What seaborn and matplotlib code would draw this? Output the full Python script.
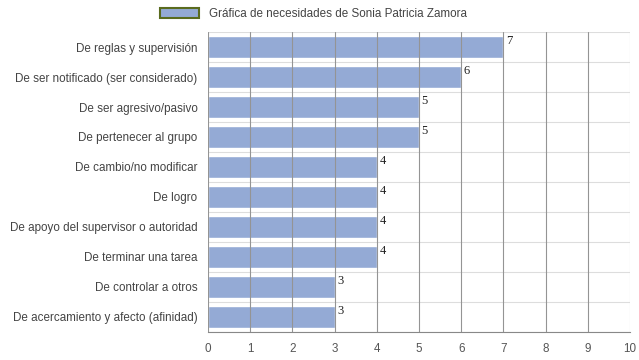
import numpy as np
import pandas as pd
import matplotlib
matplotlib.use("Agg")
import matplotlib.pyplot as plt
import seaborn as sns
from matplotlib.patches import Patch

categories = [
    "De reglas y supervisión",
    "De ser notificado (ser considerado)",
    "De ser agresivo/pasivo",
    "De pertenecer al grupo",
    "De cambio/no modificar",
    "De logro",
    "De apoyo del supervisor o autoridad",
    "De terminar una tarea",
    "De controlar a otros",
    "De acercamiento y afecto (afinidad)",
]
values = [7, 6, 5, 5, 4, 4, 4, 4, 3, 3]
series_name = "Gráfica de necesidades de Sonia Patricia Zamora"

df = pd.DataFrame({"Necesidad": categories, "Valor": values})

sns.set_style("white")
plt.rcParams["font.family"] = ["Liberation Sans", "DejaVu Sans"]

bar_color = "#94aad5"

fig = plt.figure(figsize=(6.39, 3.6), dpi=100)
ax = fig.add_axes([0.3255, 0.078, 0.6605, 0.833])

sns.barplot(data=df, x="Valor", y="Necesidad", color=bar_color, saturation=1,
            width=0.72, ax=ax)

ax.set_xlim(0, 10)
ax.set_ylim(len(categories) - 0.5, -0.5)
ax.set_xticks(range(0, 11))
ax.set_xlabel("")
ax.set_ylabel("")

# vertical grid above bars
for x in range(1, 11):
    ax.axvline(x, color="#949494" if x < 10 else "#cccccc", lw=0.8, zorder=3)
ax.axvline(0, color="#949494", lw=0.8, zorder=3)

# category separators, extending left of the axis
ax.set_yticks(np.arange(-0.5, len(categories), 1), minor=True)
ax.tick_params(axis="y", which="minor", length=7.5, color="#dddddd", width=0.8)
ax.grid(axis="y", which="minor", color="#dddddd", lw=0.8)
ax.tick_params(axis="y", which="major", length=0, labelsize=8.4, colors="#444444", pad=7.5)
ax.tick_params(axis="x", length=0, labelsize=8.4, colors="#555555", pad=8)

for s in ["top", "right", "left"]:
    ax.spines[s].set_visible(False)
ax.spines["bottom"].set_color("#888888")
ax.spines["bottom"].set_linewidth(0.8)

for i, v in enumerate(values):
    ax.text(v + 0.06, i - 0.2, str(v), ha="left", va="center",
            fontsize=9, family="Liberation Serif", color="#222222", zorder=4)

handle = Patch(facecolor=bar_color, edgecolor="#5a6b1e", linewidth=1.5)
fig.legend([handle], [series_name], loc="center", bbox_to_anchor=(0.49, 0.962),
           frameon=False, fontsize=8.4, handlelength=3.4, handleheight=1.0,
           labelcolor="#444444")

fig.savefig("out.png", dpi=100)
